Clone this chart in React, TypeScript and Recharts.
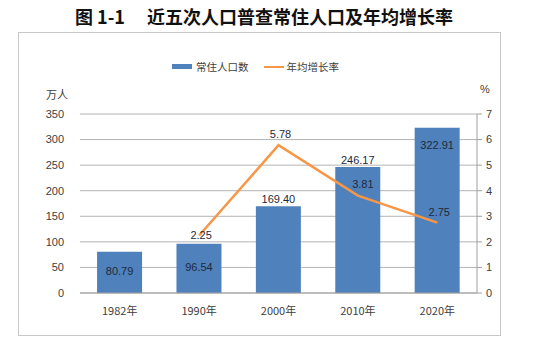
import React from "react";
import {
  Bar,
  CartesianGrid,
  ComposedChart,
  LabelList,
  Line,
  XAxis,
  YAxis,
} from "recharts";

const years = ["1982年", "1990年", "2000年", "2010年", "2020年"];
const population = [80.79, 96.54, 169.4, 246.17, 322.91];
const growthRate: (number | null)[] = [null, 2.25, 5.78, 3.81, 2.75];
const leftTicks = [0, 50, 100, 150, 200, 250, 300, 350];
const rightTicks = [0, 1, 2, 3, 4, 5, 6, 7];

// where each bar's value label sits
const barLabelPlace = ["center", "center", "above", "above", "insideTop"];

const data = years.map((year, i) => ({
  year,
  pop: population[i],
  rate: growthRate[i],
}));

const BLUE = "#4f81bd";
const ORANGE = "#f79646";
const NUM_FONT = "'Liberation Sans', Arial, sans-serif";
const CJK_FONT = "'Noto Sans CJK SC', sans-serif";

const BarLabel = (props: any) => {
  const { x, y, width, height, index, value } = props;
  const place = barLabelPlace[index];
  let ty = y + height / 2;
  if (place === "above") ty = y - 6;
  if (place === "insideTop") ty = y + 18;
  return (
    <text
      x={x + width / 2}
      y={ty}
      textAnchor="middle"
      dominantBaseline="middle"
      fontSize={11}
      fontFamily={NUM_FONT}
      fill="#1f2a3a"
    >
      {Number(value).toFixed(2)}
    </text>
  );
};

const LineLabel = (props: any) => {
  const { x, y, index, value } = props;
  if (value == null) return null;
  const ty = index === 1 ? y + 1 : y - 10;
  const tx = index === 3 ? x + 5 : x + 2;
  return (
    <text
      x={tx}
      y={ty}
      textAnchor="middle"
      dominantBaseline="middle"
      fontSize={11}
      fontFamily={NUM_FONT}
      fill="#1f2a3a"
    >
      {Number(value).toFixed(2)}
    </text>
  );
};

const App = () => {
  return (
    <div
      style={{
        position: "absolute",
        left: 0,
        top: 0,
        width: 550,
        height: 344,
        background: "#fff",
      }}
    >
      <div
        style={{
          position: "absolute",
          top: 3,
          left: 4,
          width: 520,
          textAlign: "center",
          fontFamily: CJK_FONT,
          fontWeight: "bold",
          fontSize: 18,
          color: "#111",
          whiteSpace: "pre",
        }}
      >
        {"图 1-1　 近五次人口普查常住人口及年均增长率"}
      </div>
      <div
        style={{
          position: "absolute",
          left: 18,
          top: 32,
          width: 483,
          height: 304,
          border: "1px solid #c8c8c8",
          boxSizing: "border-box",
        }}
      />
      <div
        style={{
          position: "absolute",
          top: 59,
          left: 172,
          display: "flex",
          alignItems: "center",
          fontFamily: CJK_FONT,
          fontSize: 10.5,
          color: "#404040",
        }}
      >
        <span
          style={{ width: 20, height: 5, background: BLUE, marginRight: 4 }}
        />
        <span style={{ marginRight: 15 }}>常住人口数</span>
        <span
          style={{ width: 20, height: 2, background: ORANGE, marginRight: 3 }}
        />
        <span>年均增长率</span>
      </div>
      <div
        style={{
          position: "absolute",
          top: 86,
          left: 46,
          fontFamily: CJK_FONT,
          fontSize: 11,
          color: "#404040",
        }}
      >
        万人
      </div>
      <div
        style={{
          position: "absolute",
          top: 83,
          left: 480,
          fontFamily: NUM_FONT,
          fontSize: 11,
          color: "#404040",
        }}
      >
        %
      </div>
      <div style={{ position: "absolute", left: 0, top: 0 }}>
        <ComposedChart
          width={550}
          height={344}
          data={data}
          margin={{ top: 114, bottom: 21, left: 40, right: 43 }}
          barCategoryGap="21.5%"
        >
          <CartesianGrid
            vertical={false}
            stroke="#b4b4b4"
            yAxisId="left"
          />
          <XAxis
            dataKey="year"
            axisLine={{ stroke: "#a0a0a0" }}
            tickLine={false}
            tick={{ fontSize: 11, fontFamily: CJK_FONT, fill: "#404040" }}
            tickMargin={8}
            height={30}
          />
          <YAxis
            yAxisId="left"
            domain={[0, 350]}
            ticks={leftTicks}
            axisLine={false}
            tickLine={false}
            width={40}
            tickMargin={10}
            tick={{ fontSize: 11, fontFamily: NUM_FONT, fill: "#404040" }}
          />
          <YAxis
            yAxisId="right"
            orientation="right"
            domain={[0, 7]}
            ticks={rightTicks}
            axisLine={{ stroke: "#a0a0a0" }}
            tickLine={{ stroke: "#a0a0a0" }}
            tickSize={5}
            tickMargin={4}
            width={30}
            tick={{ fontSize: 11, fontFamily: NUM_FONT, fill: "#404040" }}
          />
          <Bar
            yAxisId="left"
            dataKey="pop"
            fill={BLUE}
            isAnimationActive={false}
          >
            <LabelList dataKey="pop" content={BarLabel} />
          </Bar>
          <Line
            yAxisId="right"
            dataKey="rate"
            stroke={ORANGE}
            strokeWidth={2.5}
            dot={false}
            activeDot={false}
            isAnimationActive={false}
          >
            <LabelList dataKey="rate" content={LineLabel} />
          </Line>
        </ComposedChart>
      </div>
    </div>
  );
};

export default App;
